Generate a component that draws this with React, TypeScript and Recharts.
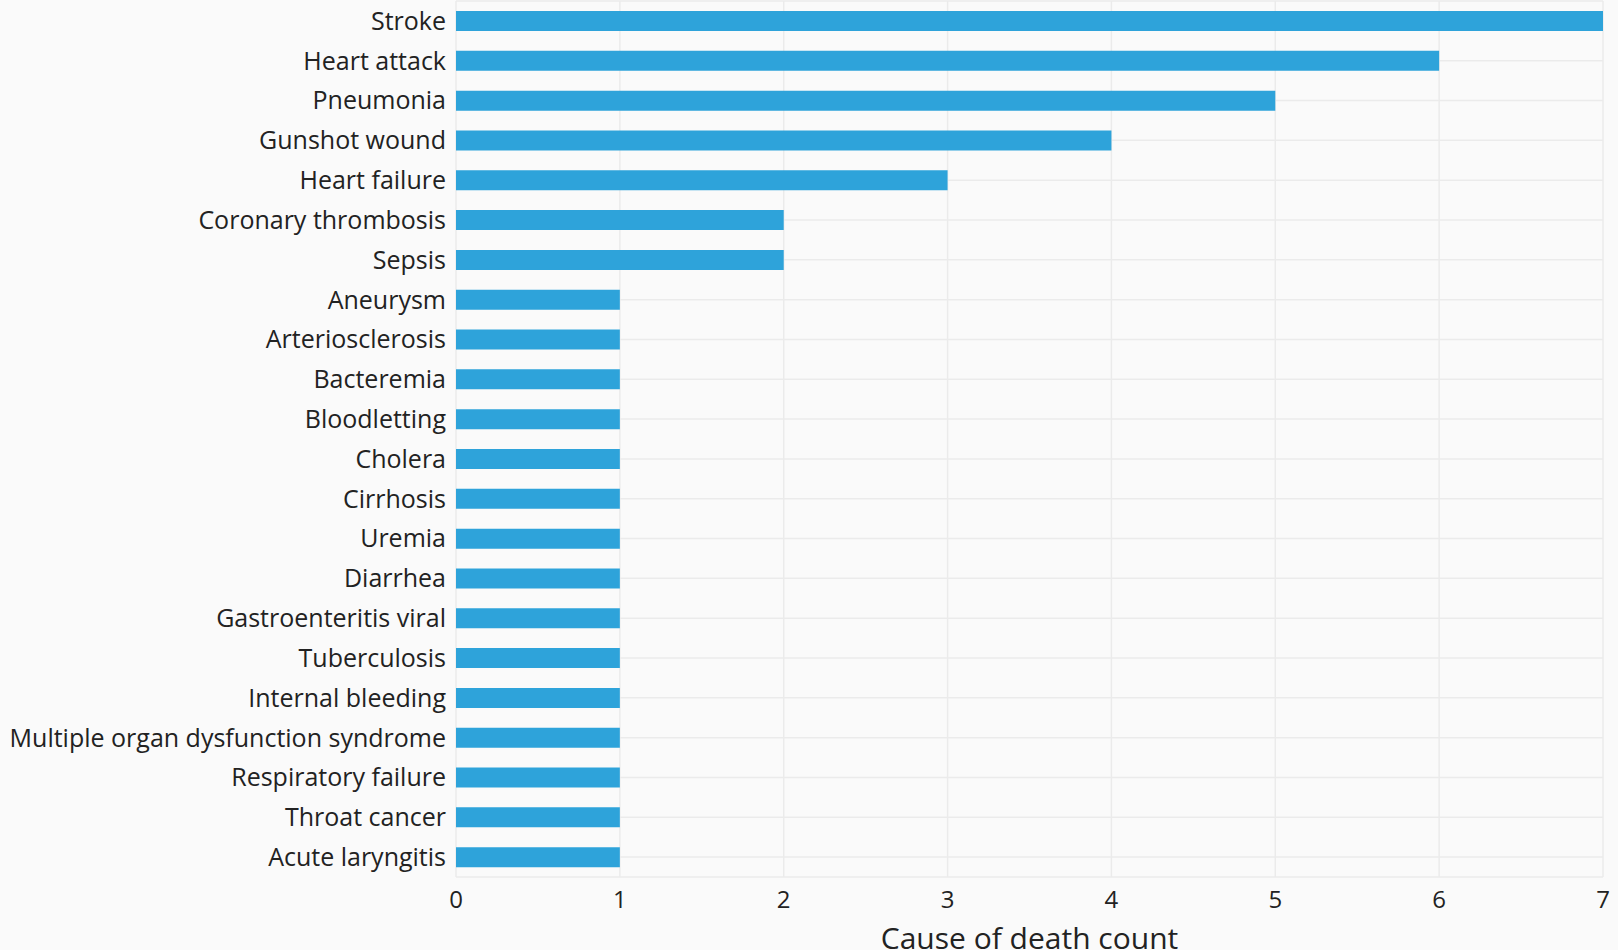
import { BarChart, Bar, XAxis, YAxis, CartesianGrid } from "recharts";

// Causes of death, most frequent first
const causes = [
  "Stroke",
  "Heart attack",
  "Pneumonia",
  "Gunshot wound",
  "Heart failure",
  "Coronary thrombosis",
  "Sepsis",
  "Aneurysm",
  "Arteriosclerosis",
  "Bacteremia",
  "Bloodletting",
  "Cholera",
  "Cirrhosis",
  "Uremia",
  "Diarrhea",
  "Gastroenteritis viral",
  "Tuberculosis",
  "Internal bleeding",
  "Multiple organ dysfunction syndrome",
  "Respiratory failure",
  "Throat cancer",
  "Acute laryngitis",
];

const counts = [7, 6, 5, 4, 3, 2, 2, 1, 1, 1, 1, 1, 1, 1, 1, 1, 1, 1, 1, 1, 1, 1];

const xTicks = [0, 1, 2, 3, 4, 5, 6, 7];

const chartData = causes.map((name, i) => ({ name, count: counts[i] }));

const font = "'Open Sans', sans-serif";

export default function App() {
  return (
    <div
      style={{
        position: "absolute",
        left: 0,
        top: 0,
        width: 1618,
        height: 950,
        background: "#fafafa",
        fontFamily: font,
        overflow: "hidden",
      }}
    >
      <BarChart
        width={1618}
        height={950}
        data={chartData}
        layout="vertical"
        margin={{ top: 1, right: 15, left: 0, bottom: 0 }}
      >
        <CartesianGrid stroke="#ebebeb" strokeWidth={1.5} />
        <XAxis
          type="number"
          domain={[0, 7]}
          ticks={xTicks}
          axisLine={false}
          tickLine={false}
          tickSize={0}
          tickMargin={14}
          height={73}
          tick={{ fill: "#222", fontSize: 24, fontFamily: font }}
          label={{
            value: "Cause of death count",
            position: "insideBottom",
            offset: 1,
            fill: "#222",
            fontSize: 30,
            fontFamily: font,
          }}
        />
        <YAxis
          type="category"
          dataKey="name"
          width={456}
          interval={0}
          axisLine={false}
          tickLine={false}
          tickSize={0}
          tickMargin={10}
          tick={{ fill: "#222", fontSize: 25, fontFamily: font }}
        />
        <Bar dataKey="count" fill="#2ea3da" barSize={20} isAnimationActive={false} />
      </BarChart>
    </div>
  );
}
